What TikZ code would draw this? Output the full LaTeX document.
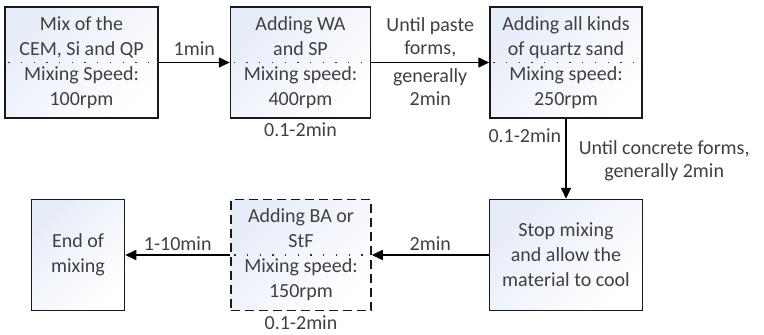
\documentclass[tikz,border=0pt]{standalone}
\usepackage{fontspec}
\setmainfont{Carlito}
\usetikzlibrary{arrows.meta, positioning}
\definecolor{txtgray}{HTML}{404040}
\definecolor{boxblue}{HTML}{E6ECF8}
\tikzset{
  box/.style   ={draw=black!90, line width=1.5pt, align=center, text=txtgray,
                 top color=boxblue, bottom color=white, shading angle=45,
                 minimum height=111pt, inner sep=2pt,
                 font=\fontsize{20}{25}\selectfont},
  optbox/.style={box, dash pattern=on 9pt off 5pt},
  arr/.style   ={-{Triangle[length=11pt, width=10pt]}, line width=1.6pt},
  lbl/.style   ={font=\fontsize{20}{23}\selectfont, text=txtgray,
                 align=center, inner sep=2pt},
  dots/.style  ={black!80, line width=1.3pt, dash pattern=on 1.3pt off 11.4pt},
}
\begin{document}
\begin{tikzpicture}[x=1pt, y=1pt]
  \useasboundingbox (0,0) rectangle (764,-335);

  \node[box, minimum width=153pt] (mix) at (81.5,-62.5)
       {Mix of the\\CEM, Si and QP\\Mixing Speed:\\100rpm};
  \node[box, minimum width=140pt, right=71pt of mix]    (wasp)
       {Adding WA\\and SP\\Mixing speed:\\400rpm};
  \node[box, minimum width=152pt, right=118pt of wasp]  (sand)
       {Adding all kinds\\of quartz sand\\Mixing speed:\\250rpm};
  \node[box, minimum width=153pt, below=80pt of sand]   (cool)
       {Stop mixing\\and allow the\\material to cool};
  \node[optbox, minimum width=140pt, left=117pt of cool] (bast)
       {Adding BA or\\StF\\Mixing speed:\\150rpm};
  \node[box, minimum width=93pt, left=105pt of bast]    (endmix)
       {End of\\mixing};

  % dotted separators
  \foreach \n in {mix, wasp, sand, bast}
    \draw[dots] ([xshift=4pt]\n.west) -- ([xshift=-4pt]\n.east);

  \draw[arr] (mix)  -- node[lbl, above=4pt]{1min} (wasp);
  \draw[arr] (wasp) -- node[lbl, above=3pt]{Until paste\\forms,}
                       node[lbl, below=3pt]{generally\\2min} (sand);
  \draw[arr] (sand) -- node[lbl, pos=0.21, left=2pt]{0.1-2min}
                       node[lbl, pos=0.52, right=10pt]{Until concrete forms,\\generally 2min} (cool);
  \draw[arr] (cool) -- node[lbl, above=2pt]{2min} (bast);
  \draw[arr] (bast) -- node[lbl, above=2pt]{1-10min} (endmix);

  \node[lbl, below=2pt of wasp] (twasp) {0.1-2min};
  \node[lbl, below=2pt of bast] (tbast) {0.1-2min};
\end{tikzpicture}
\end{document}
